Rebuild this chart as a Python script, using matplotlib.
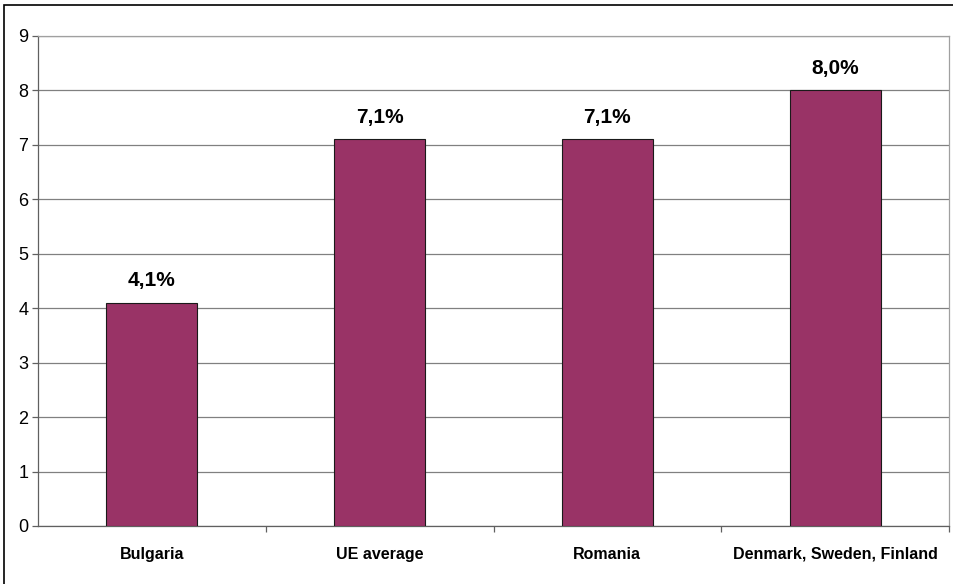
import matplotlib.pyplot as plt
import numpy as np
from matplotlib.patches import Rectangle

# Data
categories = ['Bulgaria', 'UE average', 'Romania', 'Denmark, Sweden, Finland']
values = [4.1, 7.1, 7.1, 8.0]
labels = ['4,1%', '7,1%', '7,1%', '8,0%']

plt.rcParams['font.family'] = ['Liberation Sans', 'DejaVu Sans']

fig = plt.figure(figsize=(9.54, 5.84), dpi=100)
ax = fig.add_axes([38 / 954, 1 - 526 / 584, 911 / 954, 490 / 584])

# outer chart border (right/bottom edges fall outside the image)
fig.patches.append(Rectangle((4 / 954, -0.05), 1.2, 1 - 5 / 584 + 0.05,
                             transform=fig.transFigure, fill=False,
                             edgecolor='black', linewidth=1.2))

x = np.arange(len(categories))
ax.bar(x, values, width=0.4, color='#993366', edgecolor='#1a1a1a',
       linewidth=0.8, zorder=3)

for xi, v, lab in zip(x, values, labels):
    ax.annotate(lab, (xi, v), xytext=(0, 12), textcoords='offset points',
                ha='center', va='baseline', fontsize=15, fontweight='bold')

ax.set_xlim(-0.5, len(categories) - 0.5)
ax.set_ylim(0, 9)
ax.set_yticks(range(0, 10))
ax.yaxis.grid(True, color='#808080', linewidth=0.9, zorder=0)
ax.tick_params(axis='y', labelsize=13, length=4, width=0.9,
               color='#606060', pad=3)

# category labels centered, ticks between categories
ax.set_xticks(x)
ax.set_xticklabels(categories, fontsize=11.5, fontweight='bold')
ax.tick_params(axis='x', length=0, pad=15)
ax.set_xticks(np.arange(0.5, len(categories), 1), minor=True)
ax.tick_params(axis='x', which='minor', length=4, width=0.9, color='#606060')

ax.spines['left'].set_color('#606060')
ax.spines['bottom'].set_color('#606060')
ax.spines['right'].set_color('#a0a0a0')
ax.spines['top'].set_color('#a0a0a0')
for s in ax.spines.values():
    s.set_linewidth(0.9)

fig.savefig('out.png', dpi=100)
